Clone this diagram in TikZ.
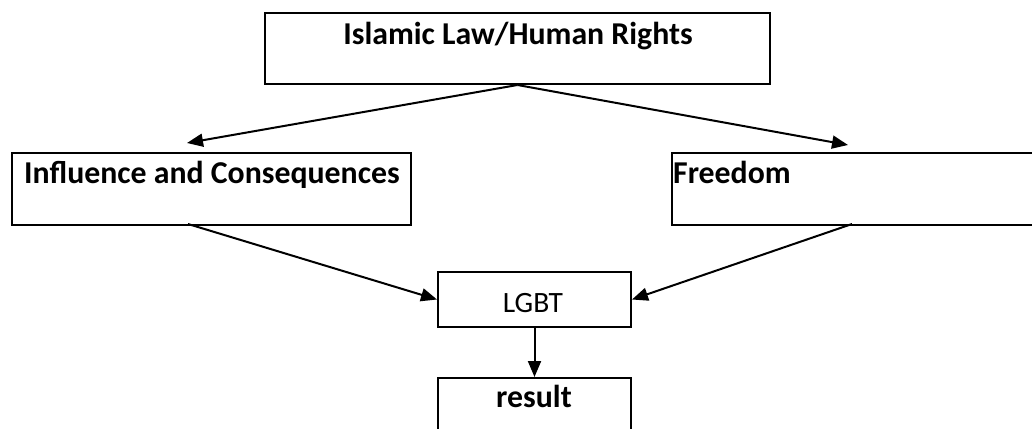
\documentclass[tikz,border=0pt]{standalone}
\usepackage{fontspec}
\setmainfont{Carlito}
\usetikzlibrary{arrows.meta}
\begin{document}
\begin{tikzpicture}[x=1pt,y=-1pt,
  boxnode/.style={draw=black,line width=2pt,fill=white,anchor=north west,inner sep=0pt},
  lbl/.style={inner sep=0pt,font=\fontsize{31.8}{36}\selectfont\bfseries},
  conn/.style={line width=2pt,-{Triangle[length=16pt,width=13pt]}}]
\useasboundingbox (0,0) rectangle (1032,428);
\node[boxnode,minimum width=505pt,minimum height=71pt] (top) at (264,12) {};
\node[boxnode,minimum width=399pt,minimum height=72pt] (left) at (11,152) {};
\node[boxnode,minimum width=400pt,minimum height=72pt] (right) at (671,152) {};
\node[boxnode,minimum width=193pt,minimum height=55pt] (lgbt) at (437,271) {};
\node[boxnode,minimum width=193pt,minimum height=70pt] (res) at (437,377) {};
\node[lbl,anchor=base] (toptxt) at (518,45) {Islamic Law/Human Rights};
\node[lbl,anchor=base] (lefttxt) at (212,183) {Influence and Consequences};
\node[lbl,anchor=base west] (righttxt) at (673,183) {Freedom};
\node[inner sep=0pt,anchor=base,font=\fontsize{29.5}{34}\selectfont] (lgbttxt) at (533,312) {LGBT};
\node[lbl,anchor=base] (restxt) at (534,407) {result};
\coordinate (ltip) at (187,143);
\coordinate (rtip) at (848,145);
\coordinate (lstart) at (188,224);
\coordinate (rstart) at (852,224);
\draw[conn] (top.south) -- (ltip);
\draw[conn] (top.south) -- (rtip);
\draw[conn] (lstart) -- (lgbt.west);
\draw[conn] (rstart) -- (lgbt.east);
\draw[conn] (lgbt.south) -- (res.north);
\end{tikzpicture}
\end{document}
